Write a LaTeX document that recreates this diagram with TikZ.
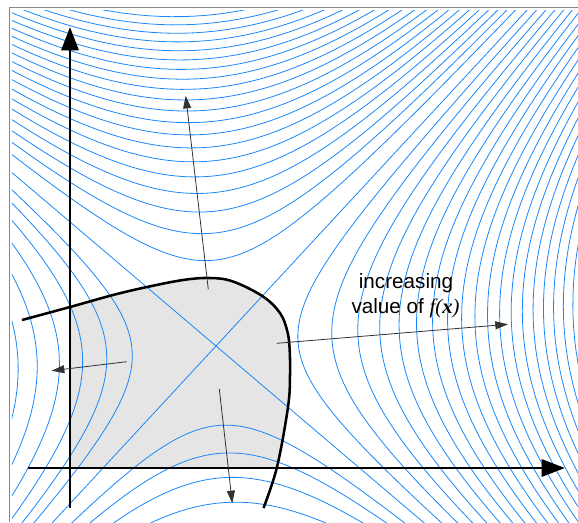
\documentclass[tikz,border=0pt]{standalone}
\usepackage{fontspec}
\setmainfont{Liberation Sans}
\newfontfamily\seriffont{Liberation Serif}
\usetikzlibrary{arrows.meta}
\definecolor{contourblue}{RGB}{25,135,250}
\definecolor{fillgray}{RGB}{229,229,229}
\definecolor{framegray}{RGB}{135,135,135}
\definecolor{arrowgray}{RGB}{50,50,50}
\begin{document}
\begin{tikzpicture}[x=75pt,y=-75pt,
  contour/.style={draw=contourblue, line width=0.6pt},
  axisline/.style={line width=2.2pt, -{Triangle[length=17.5pt,width=12.8pt]}},
  grad/.style={draw=arrowgray, line width=0.6pt, -{Triangle[length=9.5pt,width=6pt]}},
  boundary/.style={line width=1.9pt},
  framebox/.style={draw=framegray, line width=0.9pt},
  lbl/.style={font=\fontsize{15.5pt}{18pt}\selectfont, anchor=base, inner sep=0pt}]
\useasboundingbox (0,0) rectangle (5.78,5.22);
% frame
\coordinate (fb) at (0.093,5.22);
\coordinate (fc) at (0.093,0.073);
\coordinate (fr) at (5.78,0.073);
\draw[framebox] (fb) -- (fc) -- (fr);
% feasible region fill
\begin{scope}
\clip (0.70,0) rectangle (5.78,4.68);
\fill[fillgray] plot[smooth,tension=0.6] coordinates {(0.22,3.20) (0.70,3.07) (1.13,2.95) (1.47,2.87) (1.83,2.80) (2.10,2.78) (2.33,2.815) (2.63,2.965) (2.80,3.13) (2.87,3.30) (2.895,3.47) (2.90,3.75) (2.88,4.07) (2.77,4.67) (2.635,5.08)} -- (0.22,5.08) -- cycle;
\end{scope}
% contours
\coordinate (C) at (2.16,3.46);
\coordinate (a1s) at (-0.84,0.91);
\coordinate (a1e) at (5.16,6.01);
\coordinate (a2s) at (-0.34,6.16);
\coordinate (a2e) at (5.66,-0.32);
\begin{scope}
\clip (0.12,0.10) rectangle (5.78,5.22);
\draw[contour] (a1s) -- (C) -- (a1e);
\draw[contour] (a2s) -- (C) -- (a2e);
% top family
\foreach \k in {1,...,21}{
  \pgfmathsetmacro\s{sqrt(0.54*\k+0.2)}
  \draw[contour] plot[domain=-2.6:2.6, samples=161, variable=\t]
    ({2.16+2*\s*sinh(\t)/1.93},{3.46-\s*exp(\t)+0.85*2*\s*sinh(\t)/1.93});
}
% bottom family
\foreach \s in {0.797,1.077,1.323,1.573}{
  \draw[contour] plot[domain=-2.6:2.6, samples=161, variable=\t]
    ({2.16-2*\s*sinh(\t)/1.93},{3.46+\s*exp(\t)-0.85*2*\s*sinh(\t)/1.93});
}
% right family
\foreach \k in {1,...,20}{
  \pgfmathsetmacro\s{sqrt(0.624*\k)}
  \draw[contour] plot[domain=-2.6:2.6, samples=161, variable=\t]
    ({2.16+2*\s*cosh(\t)/1.93},{3.46-\s*exp(\t)+0.85*2*\s*cosh(\t)/1.93});
}
% left family
\foreach \s in {0.808,1.054,1.287,1.511,1.725,1.909}{
  \draw[contour] plot[domain=-2.6:2.6, samples=161, variable=\t]
    ({2.16-2*\s*cosh(\t)/1.93},{3.46+\s*exp(\t)-0.85*2*\s*cosh(\t)/1.93});
}
\end{scope}
% boundary of region
\draw[boundary] plot[smooth,tension=0.6] coordinates {(0.22,3.20) (0.70,3.07) (1.13,2.95) (1.47,2.87) (1.83,2.80) (2.10,2.78) (2.33,2.815) (2.63,2.965) (2.80,3.13) (2.87,3.30) (2.895,3.47) (2.90,3.75) (2.88,4.07) (2.77,4.67) (2.635,5.08)};
% axes
\coordinate (yb) at (0.70,5.08);
\coordinate (yt) at (0.70,0.27);
\coordinate (xl) at (0.28,4.68);
\coordinate (xr) at (5.65,4.68);
\draw[axisline] (yb) -- (yt);
\draw[axisline] (xl) -- (xr);
% gradient arrows
\coordinate (g1s) at (2.083,2.893); \coordinate (g1e) at (1.857,0.957);
\coordinate (g2s) at (1.267,3.617); \coordinate (g2e) at (0.517,3.707);
\coordinate (g3s) at (2.767,3.433); \coordinate (g3e) at (5.08,3.243);
\coordinate (g4s) at (2.193,3.89);  \coordinate (g4e) at (2.323,5.033);
\draw[grad] (g1s) -- (g1e);
\draw[grad] (g2s) -- (g2e);
\draw[grad] (g3s) -- (g3e);
\draw[grad] (g4s) -- (g4e);
% label
\node[lbl] (t1) at (4.06,2.883) {increasing};
\node[lbl] (t2) at (4.055,3.133) {value of {\seriffont\itshape f(}{\seriffont\bfseries\itshape x}{\seriffont\itshape )}};
\end{tikzpicture}
\end{document}
